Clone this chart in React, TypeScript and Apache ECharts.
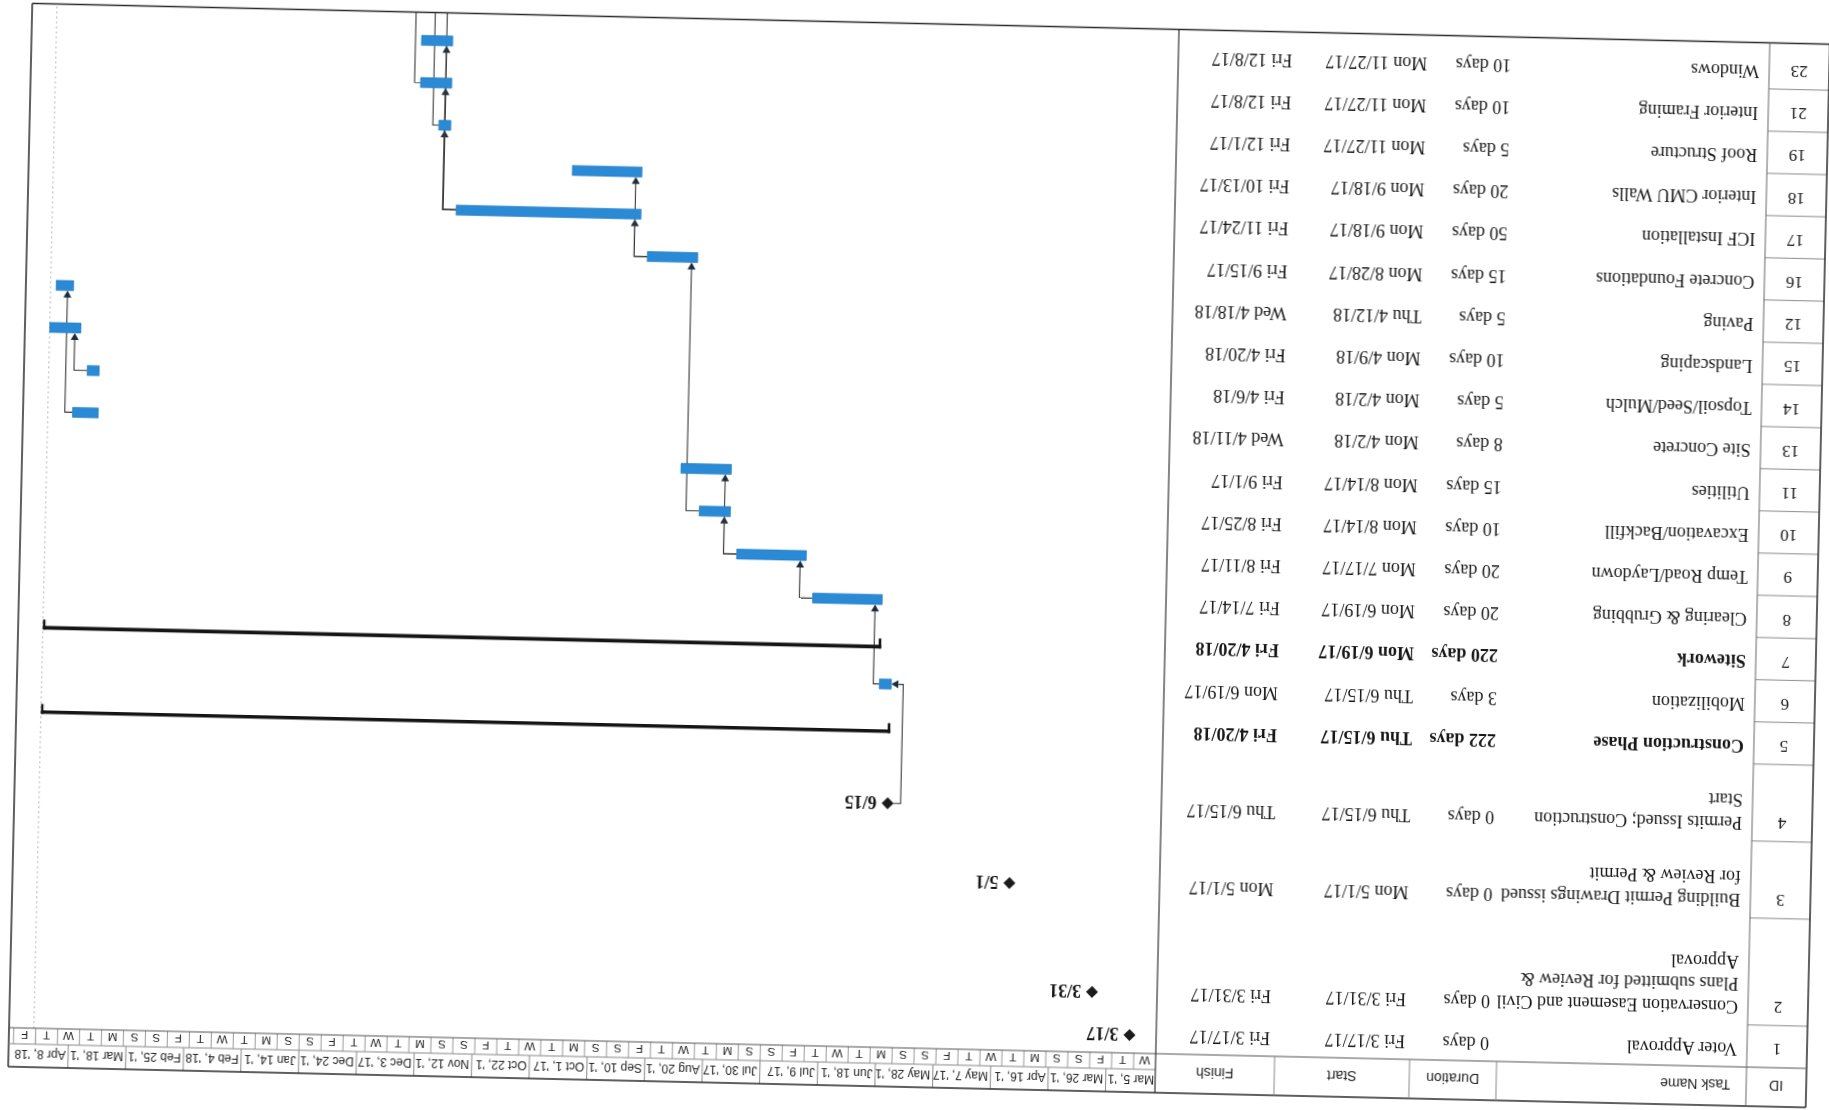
import React, { useEffect, useRef } from 'react';
import * as echarts from 'echarts';

// ---------------- data ----------------
const ids = [1, 2, 3, 4, 5, 6, 7, 8, 9, 10, 11, 13, 14, 15, 12, 16, 17, 18, 19, 21, 23];
const taskNames = [
  'Voter Approval',
  'Conservation Easement and Civil\nPlans submitted for Review &\nApproval',
  'Building Permit Drawings issued\nfor Review & Permit',
  'Permits Issued; Construction\nStart',
  'Construction Phase',
  'Mobilization',
  'Sitework',
  'Clearing & Grubbing',
  'Temp Road/Laydown',
  'Excavation/Backfill',
  'Utilities',
  'Site Concrete',
  'Topsoil/Seed/Mulch',
  'Landscaping',
  'Paving',
  'Concrete Foundations',
  'ICF Installation',
  'Interior CMU Walls',
  'Roof Structure',
  'Interior Framing',
  'Windows',
];
const durations = ['0 days', '0 days', '0 days', '0 days', '222 days', '3 days', '220 days', '20 days', '20 days', '10 days', '15 days', '8 days', '5 days', '10 days', '5 days', '15 days', '50 days', '20 days', '5 days', '10 days', '10 days'];
const startDates = ['Fri 3/17/17', 'Fri 3/31/17', 'Mon 5/1/17', 'Thu 6/15/17', 'Thu 6/15/17', 'Thu 6/15/17', 'Mon 6/19/17', 'Mon 6/19/17', 'Mon 7/17/17', 'Mon 8/14/17', 'Mon 8/14/17', 'Mon 4/2/18', 'Mon 4/2/18', 'Mon 4/9/18', 'Thu 4/12/18', 'Mon 8/28/17', 'Mon 9/18/17', 'Mon 9/18/17', 'Mon 11/27/17', 'Mon 11/27/17', 'Mon 11/27/17'];
const finishDates = ['Fri 3/17/17', 'Fri 3/31/17', 'Mon 5/1/17', 'Thu 6/15/17', 'Fri 4/20/18', 'Mon 6/19/17', 'Fri 4/20/18', 'Fri 7/14/17', 'Fri 8/11/17', 'Fri 8/25/17', 'Fri 9/1/17', 'Wed 4/11/18', 'Fri 4/6/18', 'Fri 4/20/18', 'Wed 4/18/18', 'Fri 9/15/17', 'Fri 11/24/17', 'Fri 10/13/17', 'Fri 12/1/17', 'Fri 12/8/17', 'Fri 12/8/17'];
const summaryIds = [5, 7];
const links = [[4, 6], [6, 8], [8, 9], [9, 10], [9, 11], [10, 16], [16, 17], [16, 18], [17, 19], [17, 21], [17, 23], [13, 12], [14, 15]];
const offPageLinkIds = [17, 19, 21];
const projectFinish = 'Fri 4/20/18';

const viewStart = '2017-03-08';
const viewEnd = '2018-04-29';
const majorTickDates = ['2017-03-05', '2017-03-26', '2017-04-16', '2017-05-07', '2017-05-28', '2017-06-18', '2017-07-09', '2017-07-30', '2017-08-20', '2017-09-10', '2017-10-01', '2017-10-22', '2017-11-12', '2017-12-03', '2017-12-24', '2018-01-14', '2018-02-04', '2018-02-25', '2018-03-18', '2018-04-08'];
const majorTickLabels = ["Mar 5, '17", "Mar 26, '17", "Apr 16, '17", "May 7, '17", "May 28, '17", "Jun 18, '17", "Jul 9, '17", "Jul 30, '17", "Aug 20, '17", "Sep 10, '17", "Oct 1, '17", "Oct 22, '17", "Nov 12, '17", "Dec 3, '17", "Dec 24, '17", "Jan 14, '18", "Feb 4, '18", "Feb 25, '18", "Mar 18, '18", "Apr 8, '18"];
const minorTickStepDays = 8;
const dayLetters = ['S', 'M', 'T', 'W', 'T', 'F', 'S'];
const columnTitles = ['ID', 'Task Name', 'Duration', 'Start', 'Finish'];

// ---------------- helpers ----------------
const DAY = 86400000;
const HOUR = 3600000;
const isoTs = (s: string) => {
  const [y, m, d] = s.split('-').map(Number);
  return Date.UTC(y, m - 1, d);
};
const mdyTs = (s: string) => {
  const p = s.split(' ')[1].split('/').map(Number);
  return Date.UTC(2000 + p[2], p[0] - 1, p[1]);
};
const mdLabel = (s: string) => {
  const p = s.split(' ')[1].split('/');
  return p[0] + '/' + p[1];
};

let measureCtx: any = null;
function fitText(text: string, font: string, maxW: number) {
  if (!measureCtx) measureCtx = document.createElement('canvas').getContext('2d');
  measureCtx.font = font;
  let t = text;
  while (t.length > 0 && measureCtx.measureText(t).width > maxW) t = t.slice(0, -1);
  return t;
}

// ---------------- layout ----------------
const W = 1829;
const H = 1110;
const TABLE_LEFT = 8;
const GANTT_LEFT = 659;
const GANTT_RIGHT = 1804;
const FRAME_RIGHT = 1806;
const HEADER_TOP = 23;
const TIER_SPLIT = 46;
const BODY_TOP = 62;
const LINE_H = 22.5;
const BAR_MID = 18;
const BAR_H = 10;
const SUM_MID = 13;
const colEdges = [TABLE_LEFT, 68, 318, 405, 540, GANTT_LEFT];
const TXT_NAME = 78;
const TXT_DUR = 326;
const TXT_START = 410;
const TXT_FINISH = 545;

const SERIF = '"Liberation Serif", "Times New Roman", serif';
const SANS = '"Liberation Sans", Arial, sans-serif';
const INK = '#161616';
const BLUE = '#2a8ad6';
const LINK = '#3a3a3a';
const ARROW = '#1f2b3a';

const lineCounts = taskNames.map((n) => n.split('\n').length);
const rowHeights = lineCounts.map((c) => (c === 1 ? 42.2 : c === 2 ? 77 : 107));
const rowTops: number[] = [];
let acc = 0;
rowHeights.forEach((h) => {
  rowTops.push(acc);
  acc += h;
});
const BODY_H = acc;
const BODY_BOTTOM = BODY_TOP + BODY_H;
const FRAME_BOTTOM = BODY_BOTTOM + 4;

const rowTypes = ids.map((id, i) =>
  durations[i] === '0 days' ? 'milestone' : summaryIds.includes(id) ? 'summary' : 'task'
);
const startTs = startDates.map((s) => mdyTs(s) + 8 * HOUR);
const endTs = finishDates.map((s) => mdyTs(s) + 17 * HOUR);
const msTs = finishDates.map((s) => mdyTs(s) + 17 * HOUR);
const idIndex: Record<number, number> = {};
ids.forEach((id, i) => (idIndex[id] = i));

const viewStartTs = isoTs(viewStart);
const viewEndTs = isoTs(viewEnd);
const minorTicks: number[] = [];
for (let t = viewStartTs; t < viewEndTs; t += minorTickStepDays * DAY) minorTicks.push(t);

// ---------------- option ----------------
function buildOption() {
  const graphic: any[] = [];
  const stroke = (x1: number, y1: number, x2: number, y2: number, c: string, w: number) =>
    graphic.push({ type: 'line', silent: true, z: 10, shape: { x1, y1, x2, y2 }, style: { stroke: c, lineWidth: w } });

  // frame
  stroke(TABLE_LEFT, HEADER_TOP, FRAME_RIGHT, HEADER_TOP, '#2a2a2a', 1.5);
  stroke(TABLE_LEFT, FRAME_BOTTOM, FRAME_RIGHT, FRAME_BOTTOM, '#2a2a2a', 1.5);
  stroke(TABLE_LEFT, HEADER_TOP, TABLE_LEFT, FRAME_BOTTOM, '#2a2a2a', 1.5);
  stroke(FRAME_RIGHT, HEADER_TOP, FRAME_RIGHT, FRAME_BOTTOM, '#2a2a2a', 1.5);
  // header bottom + tier split
  stroke(TABLE_LEFT, BODY_TOP, FRAME_RIGHT, BODY_TOP, '#555', 1);
  stroke(GANTT_LEFT, TIER_SPLIT, FRAME_RIGHT, TIER_SPLIT, '#8a8a8a', 1);
  // verticals
  stroke(colEdges[1], HEADER_TOP, colEdges[1], FRAME_BOTTOM, '#666', 1);
  stroke(GANTT_LEFT, HEADER_TOP, GANTT_LEFT, FRAME_BOTTOM, '#333', 1.2);
  [2, 3, 4].forEach((k) => stroke(colEdges[k], HEADER_TOP, colEdges[k], BODY_TOP, '#8a8a8a', 1));

  // header titles
  const hy = (HEADER_TOP + BODY_TOP) / 2 + 1;
  const hx = [
    { x: (colEdges[0] + colEdges[1]) / 2, a: 'center' },
    { x: 84, a: 'left' },
    { x: (colEdges[2] + colEdges[3]) / 2, a: 'center' },
    { x: (colEdges[3] + colEdges[4]) / 2, a: 'center' },
    { x: (colEdges[4] + colEdges[5]) / 2, a: 'center' },
  ];
  columnTitles.forEach((t, k) =>
    graphic.push({
      type: 'text',
      silent: true,
      x: hx[k].x,
      y: hy,
      style: { text: t, font: '14px ' + SANS, fill: '#222', textAlign: hx[k].a, align: hx[k].a, textVerticalAlign: 'middle', verticalAlign: 'middle' },
    })
  );

  // ---- table rows ----
  const tableSeries = {
    type: 'custom',
    xAxisIndex: 1,
    yAxisIndex: 1,
    clip: false,
    silent: true,
    data: ids.map((id, i) => [0, rowTops[i]]),
    encode: { x: 0, y: 1 },
    renderItem: (params: any, api: any) => {
      const i = params.dataIndex;
      const yTop = api.coord([0, rowTops[i]])[1];
      const yBot = api.coord([0, rowTops[i] + rowHeights[i]])[1];
      const bold = summaryIds.includes(ids[i]);
      const f = (bold ? 'bold ' : '') + '18px ' + SERIF;
      const y1 = yTop + BAR_MID;
      const txt = (x: number, y: number, text: string, font: string, align = 'left') => ({
        type: 'text',
        x,
        y,
        style: { text, font, fill: INK, textAlign: align, align, textVerticalAlign: 'middle', verticalAlign: 'middle' },
      });
      const children: any[] = [];
      if (i < ids.length - 1) {
        children.push({ type: 'line', shape: { x1: colEdges[0], y1: yBot, x2: colEdges[1], y2: yBot }, style: { stroke: '#8c8c8c', lineWidth: 1 } });
      }
      children.push(txt((colEdges[0] + colEdges[1]) / 2, y1, String(ids[i]), '17px ' + SERIF, 'center'));
      taskNames[i].split('\n').forEach((ln, k) => children.push(txt(TXT_NAME, y1 + k * LINE_H, ln, f)));
      children.push(txt(TXT_DUR, y1, durations[i], f));
      children.push(txt(TXT_START, y1, startDates[i], f));
      children.push(txt(TXT_FINISH, y1, finishDates[i], f));
      return { type: 'group', children };
    },
  };

  // ---- timescale: major tier ----
  const majorFont = '12px ' + SANS;
  const majorSeries = {
    type: 'custom',
    xAxisIndex: 0,
    yAxisIndex: 0,
    clip: false,
    silent: true,
    data: majorTickDates.map((d) => [isoTs(d), 0]),
    encode: { x: 0, y: 1 },
    renderItem: (params: any, api: any) => {
      const cs = params.coordSys;
      const i = params.dataIndex;
      const x = api.coord([api.value(0), 0])[0];
      const nextTs = i + 1 < majorTickDates.length ? isoTs(majorTickDates[i + 1]) : viewEndTs;
      const xn = Math.min(api.coord([nextTs, 0])[0], cs.x + cs.width);
      const children: any[] = [];
      if (x > cs.x + 0.5) {
        children.push({ type: 'line', shape: { x1: x, y1: HEADER_TOP, x2: x, y2: TIER_SPLIT }, style: { stroke: '#8a8a8a', lineWidth: 1 } });
      }
      const lx = x < cs.x ? cs.x + 1 : x + 2.5;
      const t = fitText(majorTickLabels[i], majorFont, xn - lx + 1);
      children.push({
        type: 'text',
        x: lx,
        y: (HEADER_TOP + TIER_SPLIT) / 2 + 1,
        style: { text: t, font: majorFont, fill: '#222', textAlign: 'left', align: 'left', textVerticalAlign: 'middle', verticalAlign: 'middle' },
      });
      return { type: 'group', children };
    },
  };

  // ---- timescale: minor tier ----
  const minorFont = '11.5px ' + SANS;
  const minorSeries = {
    type: 'custom',
    xAxisIndex: 0,
    yAxisIndex: 0,
    clip: false,
    silent: true,
    data: minorTicks.map((t) => [t, 0]),
    encode: { x: 0, y: 1 },
    renderItem: (params: any, api: any) => {
      const cs = params.coordSys;
      const ts = api.value(0);
      const x = api.coord([ts, 0])[0];
      const xn = Math.min(api.coord([ts + minorTickStepDays * DAY, 0])[0], cs.x + cs.width);
      const children: any[] = [];
      if (x > cs.x + 0.5) {
        children.push({ type: 'line', shape: { x1: x, y1: TIER_SPLIT, x2: x, y2: BODY_TOP }, style: { stroke: '#9a9a9a', lineWidth: 1 } });
      }
      if (xn - x > 10) {
        const letter = dayLetters[new Date(ts).getUTCDay()];
        children.push({
          type: 'text',
          x: (x + xn) / 2,
          y: (TIER_SPLIT + BODY_TOP) / 2 + 0.5,
          style: { text: letter, font: minorFont, fill: '#222', textAlign: 'center', align: 'center', textVerticalAlign: 'middle', verticalAlign: 'middle' },
        });
      }
      return { type: 'group', children };
    },
  };

  // ---- project finish (dotted) ----
  const finishSeries = {
    type: 'custom',
    xAxisIndex: 0,
    yAxisIndex: 0,
    clip: false,
    silent: true,
    data: [[mdyTs(projectFinish) + 17 * HOUR, 0]],
    encode: { x: 0, y: 1 },
    renderItem: (params: any, api: any) => {
      const x = api.coord([api.value(0), 0])[0];
      const cs = params.coordSys;
      return {
        type: 'line',
        shape: { x1: x, y1: cs.y, x2: x, y2: FRAME_BOTTOM },
        style: { stroke: '#b5b5b5', lineWidth: 1, lineDash: [2, 3] },
      };
    },
  };

  // ---- dependency links ----
  const barCenterY = (api: any, idx: number) => api.coord([viewStartTs, rowTops[idx]])[1] + BAR_MID;
  const predEndX = (api: any, idx: number) =>
    api.coord([rowTypes[idx] === 'milestone' ? msTs[idx] : endTs[idx], rowTops[idx]])[0];
  const downArrow = (x: number, yTip: number) => ({
    type: 'polygon',
    shape: { points: [[x, yTip], [x - 4, yTip - 7], [x + 4, yTip - 7]] },
    style: { fill: ARROW },
  });
  const linkSeries = {
    type: 'custom',
    xAxisIndex: 0,
    yAxisIndex: 0,
    clip: false,
    silent: true,
    data: links.map(([a, b]) => [startTs[idIndex[b]], rowTops[idIndex[b]], a, b]),
    encode: { x: 0, y: 1 },
    renderItem: (params: any, api: any) => {
      const p = idIndex[api.value(2)];
      const s = idIndex[api.value(3)];
      const pe = predEndX(api, p);
      const py = barCenterY(api, p);
      const sx = api.coord([startTs[s], rowTops[s]])[0];
      const sy = barCenterY(api, s);
      const isMs = rowTypes[p] === 'milestone';
      if (isMs && sx <= pe + 2) {
        const xv = pe - 13;
        return {
          type: 'group',
          children: [
            { type: 'polyline', shape: { points: [[pe - 6, py], [xv, py], [xv, sy], [sx - 7, sy]] }, style: { stroke: LINK, lineWidth: 1.1, fill: 'none' } },
            { type: 'polygon', shape: { points: [[sx, sy], [sx - 7, sy - 4], [sx - 7, sy + 4]] }, style: { fill: ARROW } },
          ],
        };
      }
      const x0 = isMs ? pe + 6 : pe;
      const xv = Math.max(pe, sx) + 6;
      const sTop = sy - BAR_H / 2;
      return {
        type: 'group',
        children: [
          { type: 'polyline', shape: { points: [[x0, py], [xv, py], [xv, sTop - 6]] }, style: { stroke: LINK, lineWidth: 1.1, fill: 'none' } },
          downArrow(xv, sTop),
        ],
      };
    },
  };

  const offPageSeries = {
    type: 'custom',
    xAxisIndex: 0,
    yAxisIndex: 0,
    clip: false,
    silent: true,
    data: offPageLinkIds.map((id) => [endTs[idIndex[id]], rowTops[idIndex[id]], id]),
    encode: { x: 0, y: 1 },
    renderItem: (params: any, api: any) => {
      const id = api.value(2);
      const p = idIndex[id];
      const pe = predEndX(api, p);
      const py = barCenterY(api, p);
      const succ = links.find((l) => l[0] === id);
      let xv = pe + 6;
      if (succ) {
        const sx = api.coord([startTs[idIndex[succ[1]]], 0])[0];
        xv = Math.max(pe, sx) + 6;
      }
      return {
        type: 'polyline',
        shape: { points: [[pe, py], [xv, py], [xv, FRAME_BOTTOM]] },
        style: { stroke: LINK, lineWidth: 1.1, fill: 'none' },
      };
    },
  };

  // ---- bars / milestones / summaries ----
  const ganttSeries = {
    type: 'custom',
    xAxisIndex: 0,
    yAxisIndex: 0,
    clip: false,
    silent: true,
    data: ids.map((id, i) => [startTs[i], endTs[i], rowTops[i]]),
    encode: { x: [0, 1], y: 2 },
    renderItem: (params: any, api: any) => {
      const i = params.dataIndex;
      const yTop = api.coord([api.value(0), api.value(2)])[1];
      const type = rowTypes[i];
      if (type === 'milestone') {
        const x = api.coord([msTs[i], rowTops[i]])[0];
        const yc = yTop + BAR_MID;
        return {
          type: 'group',
          children: [
            { type: 'polygon', shape: { points: [[x, yc - 6], [x + 6, yc], [x, yc + 6], [x - 6, yc]] }, style: { fill: '#1b1b1b' } },
            {
              type: 'text',
              x: x + 11,
              y: yc + 1,
              style: { text: mdLabel(finishDates[i]), font: 'bold 18px ' + SERIF, fill: INK, textAlign: 'left', align: 'left', textVerticalAlign: 'middle', verticalAlign: 'middle' },
            },
          ],
        };
      }
      const xs = api.coord([api.value(0), rowTops[i]])[0];
      const xe = api.coord([api.value(1), rowTops[i]])[0];
      if (type === 'summary') {
        const ys = yTop + SUM_MID;
        return {
          type: 'group',
          children: [
            { type: 'rect', shape: { x: xs, y: ys - 1.8, width: xe - xs, height: 3.6 }, style: { fill: '#151515' } },
            { type: 'rect', shape: { x: xs, y: ys - 1.8, width: 2.6, height: 10 }, style: { fill: '#151515' } },
            { type: 'rect', shape: { x: xe - 2.6, y: ys - 1.8, width: 2.6, height: 10 }, style: { fill: '#151515' } },
          ],
        };
      }
      const yc = yTop + BAR_MID;
      return {
        type: 'rect',
        shape: { x: xs, y: yc - BAR_H / 2, width: xe - xs, height: BAR_H },
        style: { fill: BLUE, stroke: '#2279c0', lineWidth: 0.6 },
      };
    },
  };

  return {
    animation: false,
    backgroundColor: '#ffffff',
    grid: [
      { left: GANTT_LEFT, top: BODY_TOP, width: GANTT_RIGHT - GANTT_LEFT, height: BODY_H, show: false },
      { left: TABLE_LEFT, top: BODY_TOP, width: GANTT_LEFT - TABLE_LEFT, height: BODY_H, show: false },
    ],
    xAxis: [
      { type: 'time', gridIndex: 0, min: viewStartTs, max: viewEndTs, show: false },
      { type: 'value', gridIndex: 1, min: 0, max: GANTT_LEFT - TABLE_LEFT, show: false },
    ],
    yAxis: [
      { type: 'value', gridIndex: 0, min: 0, max: BODY_H, inverse: true, show: false },
      { type: 'value', gridIndex: 1, min: 0, max: BODY_H, inverse: true, show: false },
    ],
    graphic,
    series: [tableSeries, majorSeries, minorSeries, finishSeries, linkSeries, offPageSeries, ganttSeries],
  };
}

export default function App() {
  const ref = useRef<HTMLDivElement>(null);
  useEffect(() => {
    const chart = echarts.init(ref.current as HTMLDivElement, null, { renderer: 'svg' });
    chart.setOption(buildOption() as any);
    return () => chart.dispose();
  }, []);
  return (
    <div
      style={{
        position: 'fixed',
        left: 0,
        top: 0,
        width: W,
        height: H,
        background: '#fff',
        transform: 'translate(-3px, 0px) rotate(181.3deg)',
        transformOrigin: '50% 50%',
      }}
    >
      <div ref={ref} style={{ width: W, height: H }} />
    </div>
  );
}
